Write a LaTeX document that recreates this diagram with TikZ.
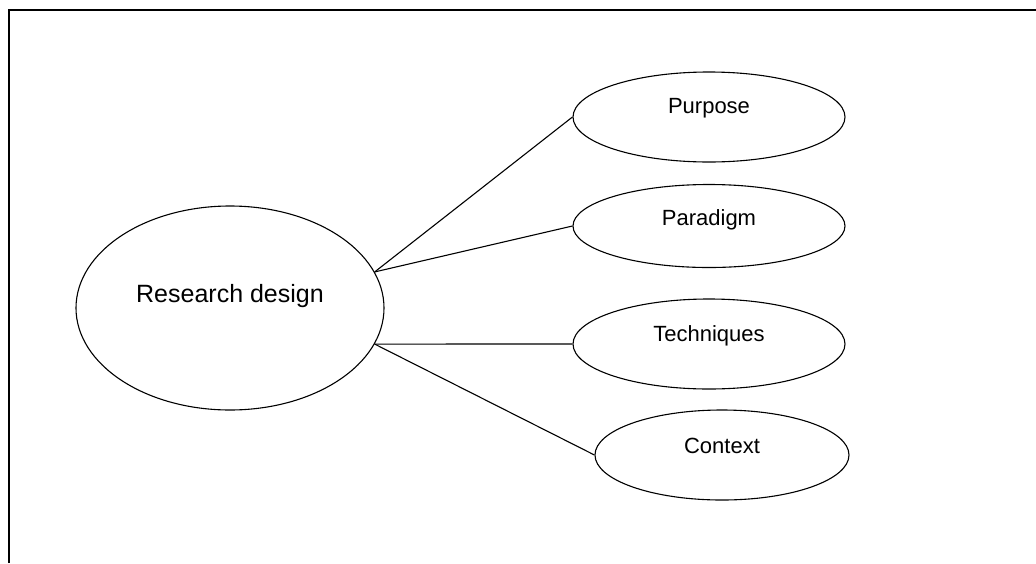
\documentclass[tikz,border=0pt]{standalone}
\usepackage{fontspec}
\setmainfont{Liberation Sans}
\usetikzlibrary{shapes.geometric}
\tikzset{
  oval/.style={ellipse,draw=black,line width=1.1pt,inner sep=0pt},
  bigoval/.style={oval,minimum width=308,minimum height=204,font=\fontsize{25}{30}\selectfont,text height=18pt,text depth=30pt},
  smalloval/.style={oval,minimum width=272,minimum height=90,font=\fontsize{22}{26}\selectfont,text height=16pt},
  link/.style={draw=black,line width=1.1pt}
}
\begin{document}
\begin{tikzpicture}[x=1pt,y=-1pt]
\useasboundingbox (0,0) rectangle (1036,563);
\draw[black,line width=1.6pt] (9,563) -- (9,10) -- (1036,10);
\node[bigoval] (rd) at (230,308) {Research design};
\node[smalloval,text depth=24pt] (pu) at (709,117) {Purpose};
\node[smalloval,text depth=18pt,minimum height=83] (pa) at (709,226) {Paradigm};
\node[smalloval,text depth=22pt] (te) at (709,344) {Techniques};
\node[smalloval,text depth=20pt,minimum width=254] (co) at (722,455) {Context};
\draw[link] (rd.14) -- (pu.west);
\draw[link] (rd.14) -- (pa.west);
\draw[link] (rd.-14) -- (te.west);
\draw[link] (rd.-14) -- (co.west);
\end{tikzpicture}
\end{document}
